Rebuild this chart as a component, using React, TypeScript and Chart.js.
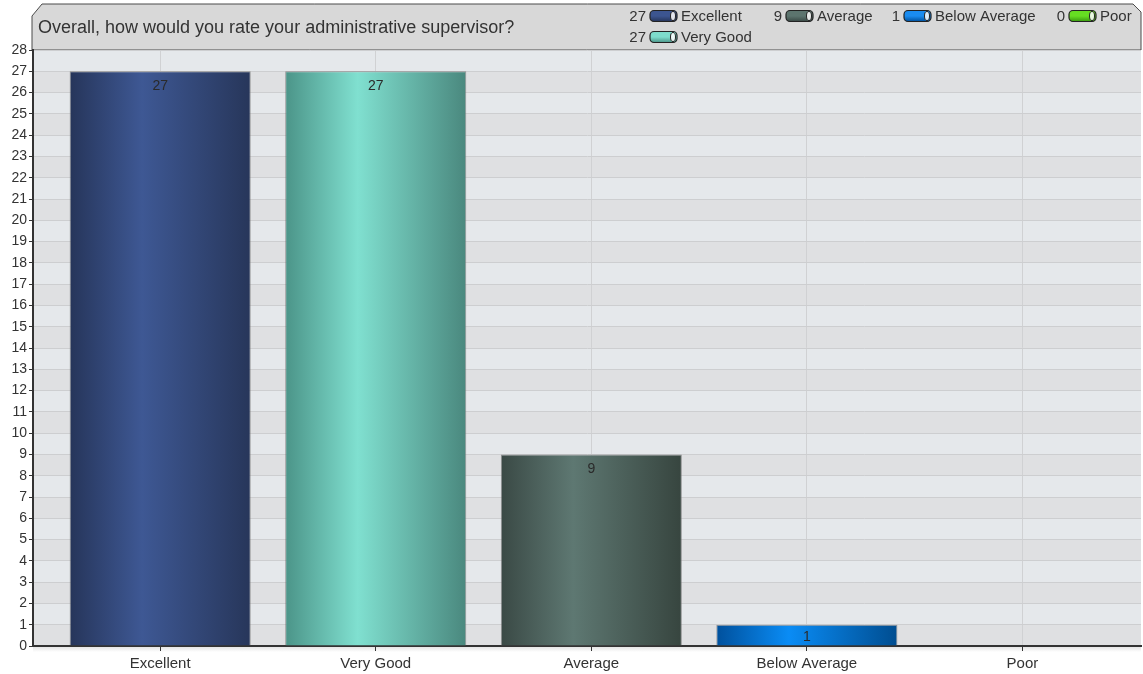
import { useEffect, useRef } from "react";
import { Chart, registerables } from "chart.js";

Chart.register(...registerables);

// ---- data ----
const categories = ["Excellent", "Very Good", "Average", "Below Average", "Poor"];
const counts = [27, 27, 9, 1, 0];
const yMin = 0;
const yMax = 28;
const titleText = "Overall, how would you rate your administrative supervisor?";

// ---- styles ----
const W = 1143;
const H = 674;
const FONT = "'Liberation Sans', Arial, sans-serif";
const barGradients = [
  ["#26355a", "#3e5894", "#27365a"],
  ["#4b9488", "#80e0d0", "#4a887e"],
  ["#3a4945", "#5e7872", "#37453f"],
  ["#00509c", "#0a8cf5", "#004d90"],
  ["#3a9a10", "#7ee83a", "#3a9010"],
];
const legendSolid = ["#3c5590", "#7edccc", "#5c746e", "#1a8cf0", "#66dd22"];
// legend slot: [pillLeftX, centerY]
const legendSlots = [
  [650, 16],
  [650, 37],
  [786, 16],
  [904, 16],
  [1069, 16],
];
const barPct = 0.84;

const bgPlugin = {
  id: "bgPlugin",
  beforeDraw(chart: any) {
    const ctx = chart.ctx;
    const a = chart.chartArea;
    ctx.save();
    ctx.fillStyle = "#ffffff";
    ctx.fillRect(0, 0, W, H);
    // header box
    const L = 32, R = 1141, T = 4, B = a.top;
    ctx.beginPath();
    ctx.moveTo(L, B);
    ctx.lineTo(L, T + 12);
    ctx.lineTo(L + 10, T);
    ctx.lineTo(R - 8, T);
    ctx.lineTo(R, T + 8);
    ctx.lineTo(R, B);
    ctx.closePath();
    ctx.fillStyle = "#d8d8d8";
    ctx.fill();
    ctx.strokeStyle = "#4a4a4a";
    ctx.lineWidth = 1;
    ctx.stroke();
    // title
    ctx.fillStyle = "#333333";
    ctx.font = `18px ${FONT}`;
    ctx.textBaseline = "middle";
    ctx.textAlign = "left";
    ctx.fillText(titleText, 38, 28);
    // legend
    ctx.font = `15px ${FONT}`;
    categories.forEach((c, i) => {
      const [px, cy] = legendSlots[i];
      ctx.fillStyle = "#333333";
      ctx.textAlign = "right";
      ctx.fillText(String(counts[i]), px - 4, cy + 1);
      const pw = 27, ph = 11, r = 4;
      const g = ctx.createLinearGradient(0, cy - ph / 2, 0, cy + ph / 2);
      g.addColorStop(0, legendSolid[i]);
      g.addColorStop(0.5, legendSolid[i]);
      g.addColorStop(1, barGradients[i][0]);
      ctx.beginPath();
      ctx.roundRect(px, cy - ph / 2, pw, ph, r);
      ctx.fillStyle = g;
      ctx.fill();
      ctx.strokeStyle = "#222";
      ctx.lineWidth = 1.2;
      ctx.stroke();
      ctx.beginPath();
      ctx.ellipse(px + pw - 4, cy, 2.5, ph / 2 - 1, 0, 0, Math.PI * 2);
      ctx.fillStyle = "rgba(255,255,255,0.85)";
      ctx.fill();
      ctx.strokeStyle = "#222";
      ctx.lineWidth = 1;
      ctx.stroke();
      ctx.fillStyle = "#333333";
      ctx.textAlign = "left";
      ctx.fillText(c, px + pw + 4, cy + 1);
    });
    // alternating bands
    const ys = chart.scales.y;
    for (let v = yMin; v < yMax; v++) {
      const y1 = ys.getPixelForValue(v + 1);
      const y0 = ys.getPixelForValue(v);
      ctx.fillStyle = (yMax - v) % 2 === 1 ? "#e5e8eb" : "#dfe0e2";
      ctx.fillRect(a.left, y1, a.right - a.left, y0 - y1);
    }
    // shadow under x axis
    const sg = ctx.createLinearGradient(0, a.bottom, 0, a.bottom + 6);
    sg.addColorStop(0, "rgba(0,0,0,0.12)");
    sg.addColorStop(1, "rgba(0,0,0,0)");
    ctx.fillStyle = sg;
    ctx.fillRect(a.left, a.bottom, a.right - a.left, 6);
    ctx.restore();
  },
  afterDatasetsDraw(chart: any) {
    const ctx = chart.ctx;
    const meta = chart.getDatasetMeta(0);
    ctx.save();
    ctx.font = `14px ${FONT}`;
    ctx.fillStyle = "#2a2a2a";
    ctx.textAlign = "center";
    ctx.textBaseline = "middle";
    meta.data.forEach((el: any, i: number) => {
      if (counts[i] <= 0) return;
      const y = Math.min(el.y + 15, (el.y + el.base) / 2 + 2);
      ctx.fillText(String(counts[i]), el.x, y);
    });
    ctx.restore();
  },
};

export default function App() {
  const ref = useRef<HTMLCanvasElement | null>(null);
  useEffect(() => {
    document.body.style.margin = "0";
    const canvas = ref.current!;
    const chart = new Chart(canvas, {
      type: "bar",
      data: {
        datasets: [
          {
            data: counts.map((v, i) => ({ x: i, y: v })),
            barPercentage: barPct,
            categoryPercentage: 1,
            borderWidth: (c: any) => (counts[c.dataIndex] > 0 ? 1 : 0),
            borderColor: "rgba(110,110,110,0.7)",
            borderSkipped: "bottom",
            backgroundColor: (c: any) => {
              const chart = c.chart;
              const xs = chart.scales?.x;
              const i = c.dataIndex ?? 0;
              const cols = barGradients[i % barGradients.length];
              if (!xs) return cols[1];
              const cx = xs.getPixelForValue(i);
              const w = (xs.getPixelForValue(1) - xs.getPixelForValue(0)) * barPct;
              if (!isFinite(cx) || !isFinite(w)) return cols[1];
              const g = chart.ctx.createLinearGradient(cx - w / 2, 0, cx + w / 2, 0);
              g.addColorStop(0, cols[0]);
              g.addColorStop(0.4, cols[1]);
              g.addColorStop(1, cols[2]);
              return g;
            },
          } as any,
        ],
      },
      options: {
        animation: false,
        responsive: false,
        layout: { padding: { top: 50, right: 2, left: 0, bottom: 0 } },
        plugins: {
          legend: { display: false },
          title: { display: false },
          tooltip: { enabled: false },
        },
        scales: {
          x: {
            type: "linear",
            offset: false,
            min: -0.59,
            max: 4.55,
            afterBuildTicks: (s: any) => {
              s.ticks = categories.map((_, i) => ({ value: i }));
            },
            afterFit: (s: any) => {
              s.height = 28;
            },
            ticks: {
              autoSkip: false,
              maxRotation: 0,
              color: "#333333",
              font: { family: FONT, size: 15 },
              padding: 4,
              callback: (v: any) => categories[Math.round(Number(v))] ?? "",
            },
            grid: {
              offset: false,
              color: "#d0d1d3",
              tickColor: "#333333",
              tickLength: 5,
              drawTicks: true,
            },
            border: { color: "#333333", width: 2 },
          },
          y: {
            min: yMin,
            max: yMax,
            afterFit: (s: any) => {
              s.width = 33;
            },
            ticks: {
              stepSize: 1,
              color: "#333333",
              font: { family: FONT, size: 14 },
              padding: 2,
            },
            grid: {
              color: "#cdced0",
              tickColor: "#333333",
              tickLength: 4,
            },
            border: { color: "#333333", width: 2 },
          },
        },
      } as any,
      plugins: [bgPlugin],
    });
    return () => chart.destroy();
  }, []);
  return (
    <div style={{ position: "absolute", left: 0, top: 0, width: W, height: H }}>
      <canvas ref={ref} width={W} height={H} style={{ width: W, height: H }} />
    </div>
  );
}
